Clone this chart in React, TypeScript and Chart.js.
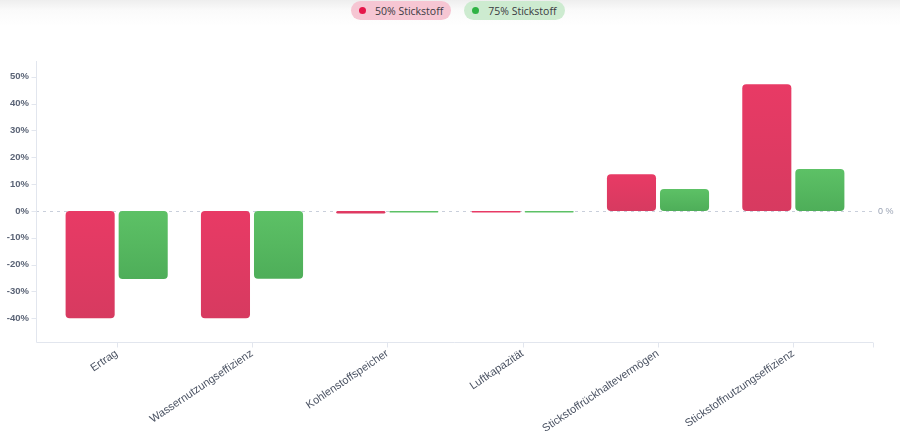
import React, { useEffect, useRef } from "react";
import { Chart, registerables } from "chart.js";
import type { Plugin, ScriptableContext } from "chart.js";

Chart.register(...registerables);

const CATEGORIES = [
  "Ertrag",
  "Wassernutzungseffizienz",
  "Kohlenstoffspeicher",
  "Luftkapazität",
  "Stickstoffrückhaltevermögen",
  "Stickstoffnutzungseffizienz",
];
const SERIES_NAMES = ["50% Stickstoff", "75% Stickstoff"];
const N50 = [-40, -40, -1, -0.6, 13.7, 47.2];
const N75 = [-25.4, -25.3, -0.6, -0.6, 8.2, 15.6];
const Y_TICKS = [-40, -30, -20, -10, 0, 10, 20, 30, 40, 50];

const RED_TOP = "#e83a65";
const RED_BOTTOM = "#d73a60";
const GREEN_TOP = "#5dc166";
const GREEN_BOTTOM = "#4eae59";
const AXIS_COLOR = "#e2e6ee";
const FONT = "'Liberation Sans', Arial, sans-serif";

function barFill(top: string, bottom: string) {
  return (ctx: ScriptableContext<"bar">) => {
    const chart = ctx.chart;
    const y = chart.scales.y;
    if (!chart.chartArea || !y || ctx.type !== "data") return top;
    const p0 = y.getPixelForValue(0);
    const p1 = y.getPixelForValue(ctx.raw as number);
    const a = Math.min(p0, p1);
    const b = Math.max(p0, p1);
    if (b - a < 2) return top;
    const g = chart.ctx.createLinearGradient(0, a, 0, b);
    g.addColorStop(0, top);
    g.addColorStop(1, bottom);
    return g;
  };
}

// axis lines reach a bit past the plot area, plus the dashed zero line
const axesPlugin: Plugin<"bar"> = {
  id: "axesPlugin",
  beforeDatasetsDraw(chart) {
    const { ctx, chartArea, scales } = chart;
    const left = chartArea.left - 13;
    const right = chartArea.right + 12;
    const zy = Math.round(scales.y.getPixelForValue(0)) + 0.5;
    ctx.save();
    ctx.strokeStyle = "#c9cfdb";
    ctx.lineWidth = 1;
    ctx.setLineDash([3, 4]);
    ctx.beginPath();
    ctx.moveTo(left, zy);
    ctx.lineTo(right, zy);
    ctx.stroke();
    ctx.setLineDash([]);
    ctx.fillStyle = "#9aa3b4";
    ctx.font = `9px ${FONT}`;
    ctx.textBaseline = "middle";
    ctx.textAlign = "left";
    ctx.fillText("0 %", right + 5, zy);

    ctx.strokeStyle = AXIS_COLOR;
    const bottom = Math.round(chartArea.bottom) + 0.5;
    const ax = Math.round(left) + 0.5;
    ctx.beginPath();
    ctx.moveTo(ax, chartArea.top);
    ctx.lineTo(ax, bottom);
    ctx.moveTo(ax, bottom);
    ctx.lineTo(right, bottom);
    Y_TICKS.forEach((v) => {
      const py = Math.round(scales.y.getPixelForValue(v)) + 0.5;
      ctx.moveTo(ax - 5, py);
      ctx.lineTo(ax, py);
    });
    CATEGORIES.forEach((_, i) => {
      const px = Math.round(scales.x.getPixelForValue(i)) + 0.5;
      ctx.moveTo(px, bottom);
      ctx.lineTo(px, bottom + 5);
    });
    ctx.moveTo(Math.round(right) + 0.5, bottom);
    ctx.lineTo(Math.round(right) + 0.5, bottom + 5);
    ctx.stroke();
    ctx.restore();
  },
};

const pillStyle = (bg: string): React.CSSProperties => ({
  display: "flex",
  alignItems: "center",
  height: 19,
  padding: "0 8px 0 8px",
  borderRadius: 10,
  background: bg,
  fontFamily: "'Open Sans', sans-serif",
  fontSize: 10.5,
  color: "#3a3a42",
  whiteSpace: "nowrap",
});

const dotStyle = (c: string): React.CSSProperties => ({
  width: 7,
  height: 7,
  borderRadius: "50%",
  background: c,
  marginRight: 9,
});

export default function App() {
  const canvasRef = useRef<HTMLCanvasElement | null>(null);
  const chartRef = useRef<Chart | null>(null);

  useEffect(() => {
    const el = canvasRef.current;
    if (!el) return;
    chartRef.current?.destroy();
    chartRef.current = new Chart(el, {
      type: "bar",
      data: {
        labels: CATEGORIES,
        datasets: [
          {
            label: SERIES_NAMES[0],
            data: N50,
            backgroundColor: barFill(RED_TOP, RED_BOTTOM),
            borderRadius: 4,
            borderSkipped: false,
            categoryPercentage: 0.784,
            barPercentage: 0.925,
          },
          {
            label: SERIES_NAMES[1],
            data: N75,
            backgroundColor: barFill(GREEN_TOP, GREEN_BOTTOM),
            borderRadius: 4,
            borderSkipped: false,
            categoryPercentage: 0.784,
            barPercentage: 0.925,
          },
        ],
      },
      options: {
        responsive: true,
        maintainAspectRatio: false,
        animation: false,
        layout: { padding: { top: 61, right: 39, left: 0, bottom: 0 } },
        plugins: { legend: { display: false }, tooltip: { enabled: false } },
        scales: {
          x: {
            grid: { display: false, drawTicks: false },
            border: { display: false },
            ticks: {
              color: "#4b5363",
              font: { family: FONT, size: 11 },
              minRotation: 34,
              maxRotation: 34,
              padding: 5,
              autoSkip: false,
            },
            afterFit: (s) => {
              s.height = 98;
            },
          },
          y: {
            min: -48.9,
            max: 55.9,
            grid: { display: false, drawTicks: false },
            border: { display: false },
            ticks: {
              color: "#5b6476",
              font: { family: FONT, size: 9.5, weight: "bold" },
              padding: 20,
              callback: (v) => `${v}%`,
            },
            afterBuildTicks: (s) => {
              s.ticks = Y_TICKS.map((value) => ({ value }));
            },
            afterFit: (s) => {
              s.width = 49;
            },
          },
        },
      },
      plugins: [axesPlugin],
    });
    return () => {
      chartRef.current?.destroy();
      chartRef.current = null;
    };
  }, []);

  return (
    <div
      style={{
        position: "absolute",
        left: 0,
        top: 0,
        width: 900,
        height: 440,
        background: "linear-gradient(#eeeeee 0px, #fafafa 10px, #ffffff 26px, #ffffff 100%)",
      }}
    >
      <div style={{ position: "absolute", left: 351, top: 1, display: "flex", gap: 13 }}>
        <div style={pillStyle("#f6c6d3")}>
          <span style={dotStyle("#e5174a")} />
          {SERIES_NAMES[0]}
        </div>
        <div style={pillStyle("#cdebd0")}>
          <span style={dotStyle("#2fb344")} />
          {SERIES_NAMES[1]}
        </div>
      </div>
      <div style={{ position: "absolute", left: 0, top: 0, width: 900, height: 440 }}>
        <canvas ref={canvasRef} />
      </div>
    </div>
  );
}
